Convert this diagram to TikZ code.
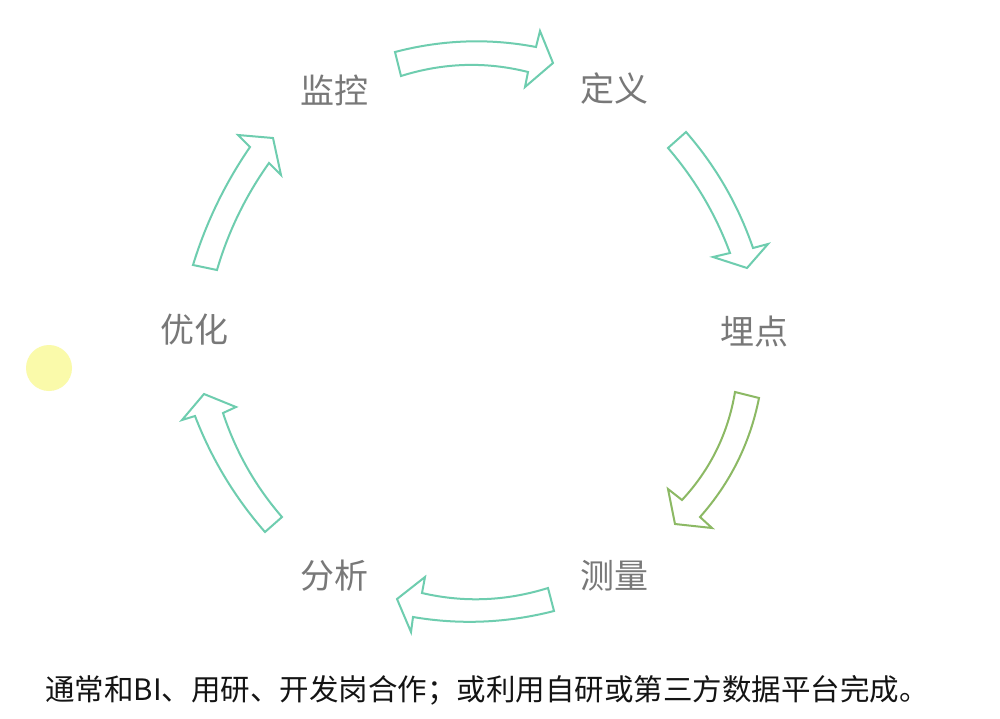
\documentclass[tikz,border=0pt]{standalone}
\usepackage{fontspec}
\newfontfamily\cjk{Noto Sans CJK SC}
\definecolor{arrteal}{RGB}{110,205,175}
\definecolor{arrolive}{RGB}{140,185,100}
\definecolor{lblgray}{RGB}{120,120,120}
\definecolor{dotyellow}{RGB}{250,250,170}
\definecolor{txtblack}{RGB}{20,20,20}
\tikzset{
  blockarrow/.style={draw=arrteal, line width=2pt, line join=miter, fill=white},
  stagelabel/.style={font=\cjk\fontsize{34}{40}\selectfont, text=lblgray, inner sep=0pt},
  notetext/.style={font=\cjk\fontsize{29.5}{34}\selectfont, text=txtblack, inner sep=0pt, anchor=west}
}
\begin{document}
\begin{tikzpicture}[x=1pt,y=-1pt]
\useasboundingbox (0,0) rectangle (1000,718);
\fill[white] (0,0) rectangle (1000,718);

% labels
\node[stagelabel] (jk) at (334,90) {监控};
\node[stagelabel] (dy) at (614,89) {定义};
\node[stagelabel] (md) at (754,332) {埋点};
\node[stagelabel] (cl) at (614,576) {测量};
\node[stagelabel] (fx) at (334,576) {分析};
\node[stagelabel] (yh) at (194,330) {优化};

% arrow 1: top, to the right
\draw[blockarrow] (395,52) .. controls (442,39.7) and (489,38) .. (536,47) -- (540,31) -- (553,63)
  -- (525,87) -- (528,72) .. controls (485.7,61.3) and (443.3,62.7) .. (401,76) -- cycle;

% arrow 2: upper right, down
\draw[blockarrow] (686,132) .. controls (715.9,166.3) and (738.2,205) .. (753,248) -- (768,244) -- (747,268)
  -- (713,257) -- (730,253) .. controls (715.7,214.3) and (695,179.3) .. (668,148) -- cycle;

% arrow 3: lower right, down-left
\draw[blockarrow, draw=arrolive] (759,398) .. controls (750.1,442.9) and (730.5,482.6) .. (700,517) -- (712,528) -- (675,524)
  -- (668,489) -- (682,500) .. controls (710.5,469.3) and (728.1,433.3) .. (735,392) -- cycle;

% arrow 4: bottom, to the left
\draw[blockarrow] (548,588) .. controls (506,601.1) and (464,602.8) .. (422,593) -- (425,577) -- (397,599)
  -- (411,632) -- (413,617) .. controls (460,625) and (507,623) .. (554,611) -- cycle;

% arrow 5: lower left, up
\draw[blockarrow] (282,517) .. controls (255.5,486.5) and (235.8,451.8) .. (223,413) -- (236,407) -- (204,394)
  -- (182,420) -- (195,416) .. controls (211.5,458.8) and (234.8,497.5) .. (265,532) -- cycle;

% arrow 6: upper left, up-right
\draw[blockarrow] (193,265) .. controls (206,222.7) and (225,183.4) .. (250,147) -- (238,135) -- (273,138)
  -- (281,175) -- (269,163) .. controls (245.7,195.7) and (228.3,231.4) .. (217,270) -- cycle;

% yellow dot
\fill[dotyellow] (49,368) circle (23);

% bottom note
\node[notetext] (note) at (45,690) {通常和BI、用研、开发岗合作；或利用自研或第三方数据平台完成。};
\end{tikzpicture}
\end{document}
